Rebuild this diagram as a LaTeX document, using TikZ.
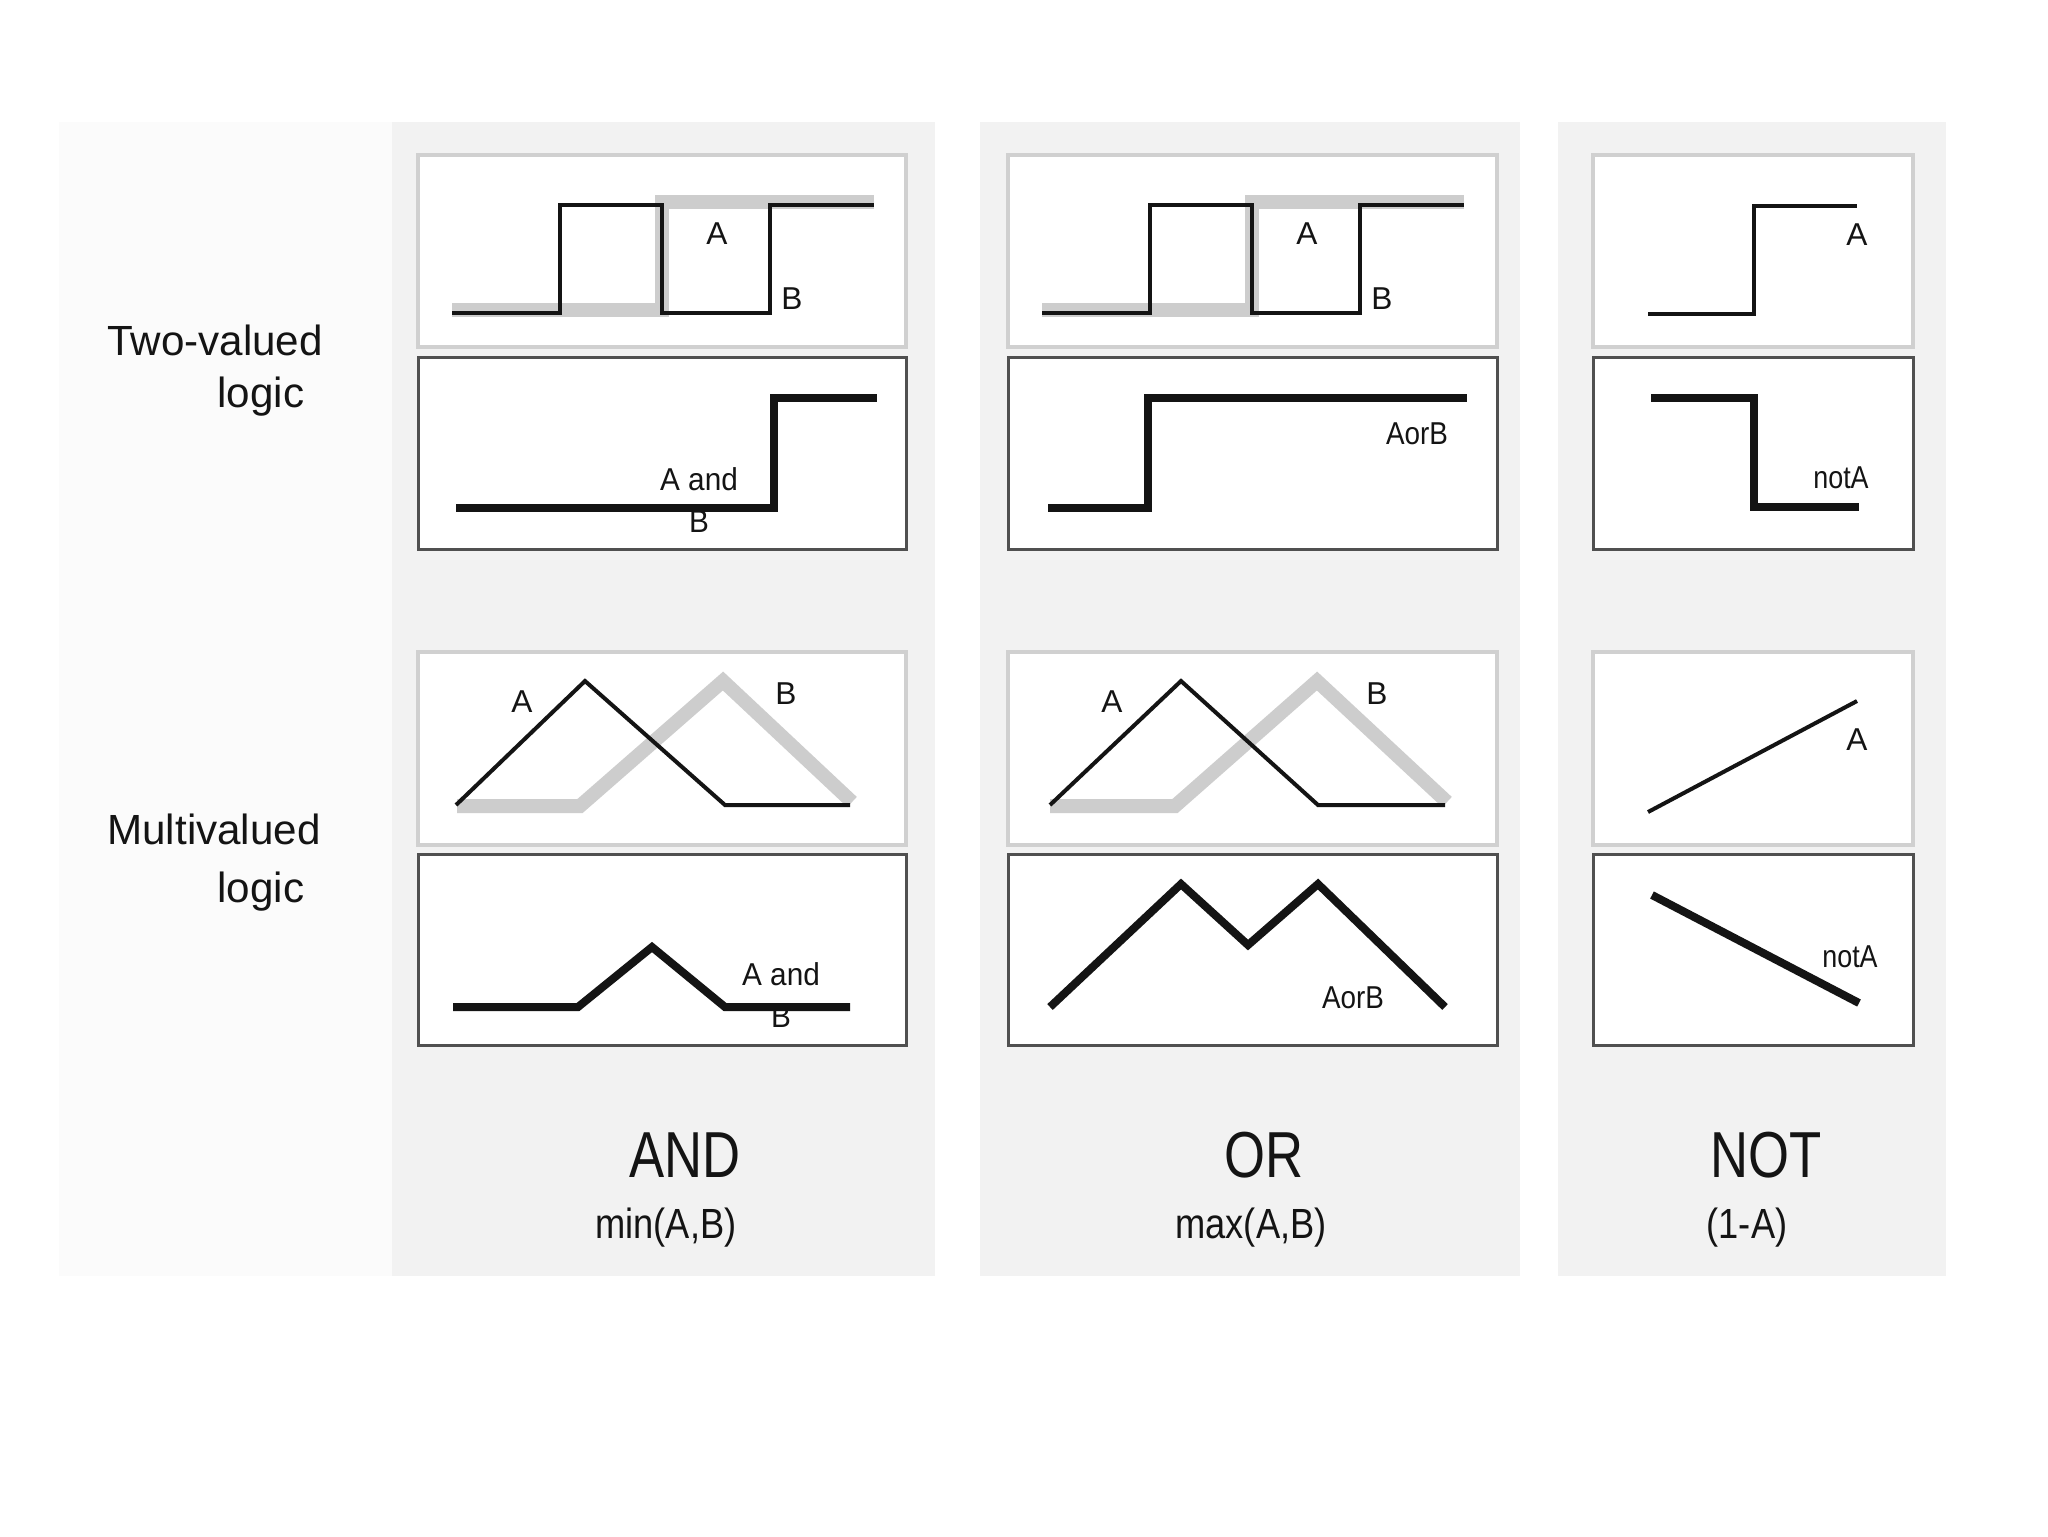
\documentclass[tikz,border=0pt]{standalone}
\usepackage{fontspec}
\setmainfont{Liberation Sans}
\usepackage{xcolor}
\definecolor{Ink}{RGB}{20,20,20}
\definecolor{ColBg}{RGB}{242,242,242}
\definecolor{SideBg}{RGB}{251,251,251}
\definecolor{InEdge}{RGB}{208,208,208}
\definecolor{OutEdge}{RGB}{80,80,80}
\definecolor{Shade}{RGB}{205,205,205}
\tikzset{
  lgcol/.style={fill=ColBg, draw=none},
  lgside/.style={fill=SideBg, draw=none},
  lgin/.style={fill=white, draw=InEdge, line width=0.35mm},
  lgout/.style={fill=white, draw=OutEdge, line width=0.3mm},
  lgsig/.style={line width=0.4mm, draw=Ink},
  lgshade/.style={line width=1.4mm, draw=Shade},
  lgres/.style={line width=0.8mm, draw=Ink},
  lgtag/.style={font=\fontsize{9}{12}\selectfont, inner sep=0pt, text=Ink},
  lgrow/.style={font=\fontsize{12}{14}\selectfont, inner sep=0pt, text=Ink},
  lgop/.style={font=\fontsize{18.5}{20}\selectfont, xscale=0.81, inner sep=0pt, text=Ink},
  lgfn/.style={font=\fontsize{12}{14}\selectfont, xscale=0.86, inner sep=0pt, text=Ink}
}
\begin{document}
\begin{tikzpicture}[x=0.1mm,y=-0.1mm]
  \useasboundingbox (0,0) rectangle (2048,1536);
  \fill[white] (0,0) rectangle (2048,1536);
  \fill[lgside] (59,122) rectangle (392,1276);
  \fill[lgcol] (392,122) rectangle (935,1276);
  \fill[lgcol] (980,122) rectangle (1520,1276);
  \fill[lgcol] (1558,122) rectangle (1946,1276);

  \node[lgrow] (twoval) at (215,340) {Two-valued};
  \node[lgrow] (twologic) at (261,397) {logic};
  \node[lgrow] (multival) at (214,829) {Multivalued};
  \node[lgrow] (multilogic) at (261,892) {logic};

  \draw[lgin] (418,155) rectangle (906,347);
  \draw[lgout] (418,357) rectangle (906,549);
  \draw[lgin] (1008,155) rectangle (1497,347);
  \draw[lgout] (1008,357) rectangle (1497,549);
  \draw[lgin] (1593,155) rectangle (1913,347);
  \draw[lgout] (1593,357) rectangle (1913,549);
  \draw[lgin] (418,652) rectangle (906,845);
  \draw[lgout] (418,854) rectangle (906,1045);
  \draw[lgin] (1008,652) rectangle (1497,845);
  \draw[lgout] (1008,854) rectangle (1497,1045);
  \draw[lgin] (1593,652) rectangle (1913,845);
  \draw[lgout] (1593,854) rectangle (1913,1045);

  \draw[lgshade] (452,310) -- (662,310) -- (662,202) -- (874,202);
  \draw[lgsig] (452,313) -- (560,313) -- (560,205) -- (662,205) -- (662,313) -- (770,313) -- (770,205) -- (874,205);
  \node[lgtag] (andA) at (717,234) {A};
  \node[lgtag] (andB) at (792,299) {B};
  \draw[lgres] (456,508) -- (774,508) -- (774,398) -- (877,398);
  \node[lgtag, align=center, xscale=0.94] (andAB) at (699,500) {A and\\B};

  \draw[lgshade] (1042,310) -- (1252,310) -- (1252,202) -- (1464,202);
  \draw[lgsig] (1042,313) -- (1150,313) -- (1150,205) -- (1252,205) -- (1252,313) -- (1360,313) -- (1360,205) -- (1464,205);
  \node[lgtag] (orA) at (1307,234) {A};
  \node[lgtag] (orB) at (1382,299) {B};
  \draw[lgres] (1048,508) -- (1148,508) -- (1148,398) -- (1467,398);
  \node[lgtag, xscale=0.88] (orAB) at (1417,434) {AorB};

  \draw[lgsig] (1648,314) -- (1754,314) -- (1754,206) -- (1857,206);
  \node[lgtag] (notA) at (1857,235) {A};
  \draw[lgres] (1651,398) -- (1754,398) -- (1754,507) -- (1859,507);
  \node[lgtag, xscale=0.85] (notnA) at (1841,478) {notA};

  \draw[lgshade] (457,806) -- (580,806) -- (723,681) -- (852,802);
  \draw[lgsig] (456,805) -- (585,681) -- (725,805) -- (850,805);
  \node[lgtag] (mandA) at (522,702) {A};
  \node[lgtag] (mandB) at (786,694) {B};
  \draw[lgres] (453,1007) -- (578,1007) -- (652,947) -- (725,1007) -- (850,1007);
  \node[lgtag, align=center, xscale=0.94] (mandAB) at (781,995) {A and\\B};

  \draw[lgshade] (1050,806) -- (1175,806) -- (1317,681) -- (1447,802);
  \draw[lgsig] (1050,805) -- (1181,681) -- (1318,805) -- (1445,805);
  \node[lgtag] (morA) at (1112,702) {A};
  \node[lgtag] (morB) at (1377,694) {B};
  \draw[lgres] (1050,1007) -- (1181,884) -- (1248,945) -- (1318,884) -- (1445,1007);
  \node[lgtag, xscale=0.88] (morAB) at (1353,998) {AorB};

  \draw[lgsig] (1648,812) -- (1857,701);
  \node[lgtag] (mnotA) at (1857,740) {A};
  \draw[lgres] (1652,895) -- (1859,1003);
  \node[lgtag, xscale=0.85] (mnotnA) at (1850,957) {notA};

  \node[lgop] (andop) at (685,1155) {AND};
  \node[lgfn] (andfn) at (666,1228) {min(A,B)};
  \node[lgop] (orop) at (1264,1155) {OR};
  \node[lgfn] (orfn) at (1251,1228) {max(A,B)};
  \node[lgop] (notop) at (1766,1155) {NOT};
  \node[lgfn] (notfn) at (1747,1228) {(1-A)};
\end{tikzpicture}
\end{document}
